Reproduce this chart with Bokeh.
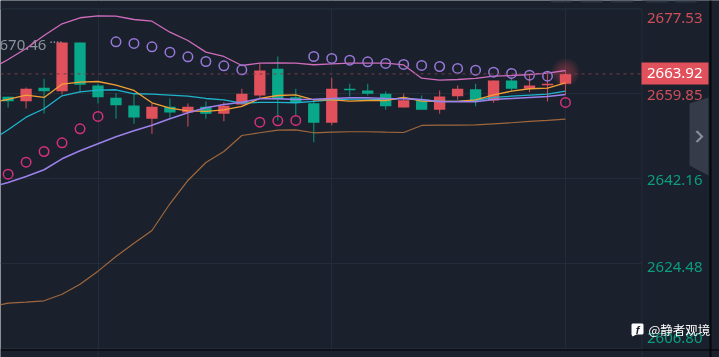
from bokeh.plotting import figure
from bokeh.models import ColumnDataSource, Label, PolyAnnotation, Span, FixedTicker, Range1d
from bokeh.embed import file_html
from bokeh.resources import INLINE

open_ = [2659.16, 2658.25, 2661.04, 2660.33, 2670.45, 2661.51, 2658.96, 2657.36, 2654.59, 2657.08, 2655.90, 2657.08, 2655.63, 2657.56, 2659.43, 2664.99,
         2659.08, 2657.83, 2653.76, 2660.83, 2660.47, 2659.79, 2656.94, 2658.39, 2656.46, 2659.29, 2660.74, 2658.39, 2662.55, 2660.83, 2661.58, 2661.87]
close = [2658.25, 2660.83, 2660.33, 2670.45, 2661.66, 2659.08, 2657.42, 2654.86, 2657.08, 2655.90, 2657.08, 2655.63, 2657.29, 2659.79, 2664.63, 2658.66,
         2657.92, 2653.76, 2660.83, 2660.54, 2659.79, 2657.21, 2658.46, 2656.46, 2659.23, 2660.83, 2658.39, 2662.55, 2660.83, 2661.51, 2661.87, 2663.92]
high = [2659.16, 2661.10, 2662.91, 2670.46, 2670.45, 2661.93, 2659.91, 2659.79, 2657.77, 2658.81, 2657.77, 2658.19, 2658.04, 2660.83, 2666.09, 2667.54,
        2660.83, 2658.54, 2663.11, 2661.87, 2661.87, 2660.27, 2659.79, 2659.43, 2660.47, 2661.51, 2661.87, 2662.55, 2662.97, 2663.59, 2664.28, 2664.63]
low = [2656.94, 2656.73, 2655.69, 2659.64, 2660.06, 2657.77, 2654.59, 2653.55, 2651.47, 2654.80, 2652.99, 2654.59, 2654.09, 2657.56, 2658.96, 2654.24,
       2655.28, 2649.73, 2653.26, 2659.23, 2659.43, 2656.46, 2656.94, 2656.46, 2655.63, 2658.54, 2657.21, 2657.92, 2660.33, 2660.12, 2658.19, 2659.64]

# indicator lines start one bar before the first candle (off the left edge)
upper = [2664.84, 2666.92, 2669.21, 2671.91, 2674.34, 2675.59, 2676.00, 2675.92, 2675.23, 2674.88, 2672.59, 2670.87, 2668.44, 2667.54, 2665.67, 2666.15, 2666.23,
         2666.15, 2665.82, 2666.02, 2666.15, 2666.15, 2666.15, 2665.78, 2663.03, 2662.62, 2662.76, 2662.97, 2663.45, 2663.59, 2663.80, 2664.07, 2664.63]
orange = [2657.98, 2658.60, 2659.50, 2659.02, 2661.78, 2662.20, 2662.34, 2661.58, 2660.47, 2657.92, 2656.79, 2656.25, 2656.11, 2656.46, 2657.15, 2658.81, 2659.43,
          2659.58, 2658.54, 2658.54, 2658.25, 2658.39, 2658.39, 2659.02, 2658.25, 2658.19, 2658.19, 2658.54, 2659.58, 2660.33, 2660.83, 2660.95, 2662.07]
cyan = [2649.87, 2652.30, 2654.92, 2656.67, 2659.37, 2660.20, 2660.54, 2660.62, 2659.79, 2659.70, 2659.50, 2659.29, 2658.81, 2658.54, 2657.83, 2657.98, 2657.98,
        2657.92, 2658.19, 2658.54, 2658.66, 2658.66, 2658.54, 2658.91, 2658.54, 2658.25, 2658.19, 2658.39, 2659.02, 2659.29, 2659.50, 2659.70, 2660.33]
middle = [2640.31, 2641.35, 2642.59, 2643.99, 2646.27, 2647.94, 2649.39, 2650.85, 2652.10, 2653.26, 2654.59, 2655.84, 2656.88, 2657.56, 2658.04, 2658.75, 2658.75,
          2658.60, 2658.66, 2658.81, 2658.96, 2658.96, 2658.81, 2658.75, 2658.60, 2658.12, 2658.12, 2658.12, 2658.60, 2658.81, 2659.02, 2659.23, 2659.64]
lower = [2615.46, 2616.25, 2616.46, 2616.75, 2618.12, 2620.20, 2622.91, 2625.96, 2628.73, 2631.37, 2636.92, 2641.76, 2645.50, 2647.79, 2651.12, 2651.68, 2652.22,
         2652.30, 2651.68, 2651.80, 2651.89, 2651.89, 2651.80, 2651.74, 2653.20, 2653.26, 2653.26, 2653.34, 2653.55, 2653.76, 2654.03, 2654.24, 2654.51]
sar = [2643.07, 2645.57, 2647.79, 2649.60, 2652.51, 2655.07, 2670.60, 2670.25, 2669.56, 2668.44, 2667.48, 2666.50, 2665.61, 2664.78, 2653.88, 2654.17,
       2654.24, 2667.54, 2667.13, 2666.77, 2666.44, 2666.09, 2665.88, 2665.67, 2665.46, 2665.05, 2664.69, 2664.28, 2664.01, 2663.65, 2663.45, 2657.98]

grid_prices = [2677.53, 2659.85, 2642.16, 2624.48, 2606.80]
tick_labels = ["2677.53", "2659.85", "2642.16", "2624.48", "2606.80"]
last_price = 2663.92
high_label = "670.46"
grid_bars = [5, 18, 31]

BG = "#1a212d"
GRID = "#232d3a"
RED = "#e0515c"
GREEN = "#0aa88a"
TXT_RED = "#d04e59"
TXT_GREEN = "#0c9c81"
FONT = "Noto Sans"

n = len(open_)
idx = list(range(n))
line_x = list(range(-1, n))

up = [c >= o for o, c in zip(open_, close)]
src = ColumnDataSource(dict(
    x=idx,
    top=[max(o, c) for o, c in zip(open_, close)],
    bottom=[min(o, c) for o, c in zip(open_, close)],
    high=high, low=low,
    color=[RED if u else GREEN for u in up],
    wick=[ "#c24a55" if u else "#0a8f76" for u in up],
    sar=sar,
    sar_color=["#d5307c" if (s < b) else "#9877d8" for s, b in zip(sar, [min(o, c) for o, c in zip(open_, close)])],
))

p = figure(width=719, height=357, output_backend="svg", toolbar_location=None,
           x_axis_location=None, y_axis_location=None,
           x_range=Range1d(-7.6 / 17.98, 711.4 / 17.98),
           y_range=Range1d(2604.96, 2679.18),
           min_border_left=0, min_border_right=0, min_border_top=0, min_border_bottom=0,
           background_fill_color=BG, border_fill_color=BG, outline_line_color=None)
p.styles = {"position": "fixed", "left": "0px", "top": "0px"}

p.xgrid.ticker = FixedTicker(ticks=grid_bars)
p.ygrid.ticker = FixedTicker(ticks=grid_prices)
p.xgrid.grid_line_color = GRID
p.ygrid.grid_line_color = GRID


def sc(ys):
    return [357 - y for y in ys]


def poly(xs, ys, fill, level="annotation"):
    p.add_layout(PolyAnnotation(xs=xs, ys=sc(ys), xs_units="screen", ys_units="screen",
                                fill_color=fill, fill_alpha=1, line_color=None, level=level,
                                editable=False))


def label(x, y, text, color, size="15px", font=FONT, align="left", level="annotation", style="normal"):
    p.add_layout(Label(x=x, y=357 - y, x_units="screen", y_units="screen", text=text,
                       text_color=color, text_font=font, text_font_size=size, text_align=align,
                       text_baseline="middle", level=level, text_font_style=style))


label(-1, 44, high_label, "#8d929b", size="15px", level="underlay")
label(49, 42, "····", "#8d929b", size="12px", level="underlay")

# glow
for s in [28, 24, 20, 16, 12]:
    p.scatter([31], [last_price + 0.3], size=s, marker="circle", fill_color=RED, fill_alpha=0.08, line_color=None)

p.segment("x", "high", "x", "low", source=src, line_color="wick", line_width=1.1)
p.vbar("x", width=0.63, top="top", bottom="bottom", source=src, fill_color="color", line_color=None)

p.line(line_x, lower, line_color="#a0673c", line_width=1.2)
p.line(line_x, upper, line_color="#cf6cbb", line_width=1.3)
p.line(line_x, cyan, line_color="#1fb3cc", line_width=1.3)
p.line(line_x, orange, line_color="#f2a033", line_width=1.3)
p.line(line_x, middle, line_color="#9c80ec", line_width=1.5)
p.scatter("x", "sar", source=src, marker="circle", size=9.5, fill_color=None, line_color="sar_color", line_width=1.5)

# chrome: cover the grid outside the plotting area, then draw the price column on top
poly([0, 719, 719, 0], [0, 0, 8, 8], BG)
poly([641, 719, 719, 641], [0, 0, 357, 357], BG)
poly([0, 641, 641, 0], [350, 350, 357, 357], BG)
poly([97, 98, 98, 97], [350, 350, 357, 357], GRID)
poly([641, 642, 642, 641], [8, 8, 357, 357], GRID)
poly([0, 641, 641, 0], [8, 8, 9, 9], GRID)
poly([0, 719, 719, 0], [349, 349, 350, 350], "#000000")
poly([709, 711, 711, 709], [0, 0, 357, 357], "#05070a")
p.add_layout(Span(location=last_price, dimension="width", line_color="#7b3a47", line_dash="3 4", line_width=1))
poly([641, 719, 719, 641], [70, 70, 76, 76], BG)
poly([641, 642, 642, 641], [70, 70, 76, 76], GRID)
poly([709, 711, 711, 709], [70, 70, 76, 76], "#05070a")
for l, r in [(550, 572), (579, 603), (610, 633), (645, 668), (674, 697)]:
    poly([l, r, r - 1, l + 1], [0, 0, 2, 2], "#2b3442")
for t, c in zip(tick_labels, [(17, TXT_RED), (94, TXT_RED), (179, TXT_GREEN), (266, TXT_GREEN), (337, TXT_GREEN)]):
    label(646.5, c[0], t, c[1])
poly([641, 708, 708, 641], [62, 62, 84, 84], RED)
label(646.5, 72, f"{last_price:.2f}", "#ffffff")
poly([708, 689, 689, 708], [97, 103, 165, 175], "#353b48")
poly([695, 697, 703, 697, 695, 700], [131, 130, 136, 142, 141, 136], "#8b8f99")

# watermark
poly([632, 642, 643, 643, 642, 636, 632, 631, 631], [323, 323, 324, 333, 334, 334, 336, 334, 324], "#ffffff")
label(637, 329, "f", BG, size="11px", font="Liberation Sans", align="center", style="bold italic")
label(648, 329, "@静者观境", "#ffffff", size="12.5px", font="Noto Sans CJK SC")

open("out.html", "w").write(file_html(p, INLINE))
